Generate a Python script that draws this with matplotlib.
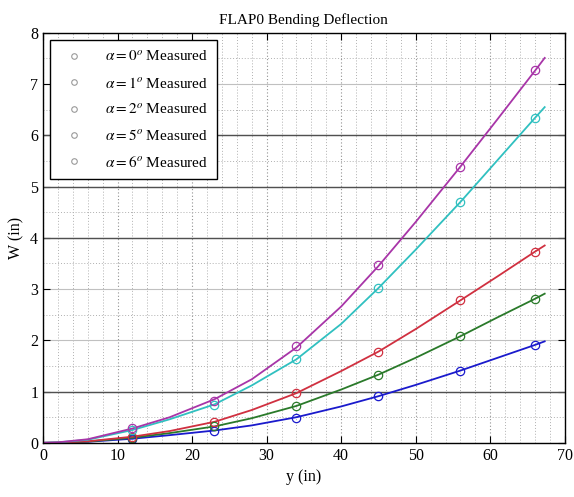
import numpy as np
import matplotlib
matplotlib.use("Agg")
import matplotlib.pyplot as plt
from matplotlib.ticker import MultipleLocator
from matplotlib.lines import Line2D

plt.rcParams["font.family"] = ["Liberation Serif", "DejaVu Serif"]
plt.rcParams["mathtext.fontset"] = "stix"

# measured stations along the span (in)
y_meas = [12, 23, 34, 45, 56, 66]
w_meas = {
    0: [0.08, 0.24, 0.49, 0.91, 1.41, 1.91],
    1: [0.10, 0.32, 0.72, 1.33, 2.08, 2.81],
    2: [0.12, 0.40, 0.97, 1.78, 2.78, 3.73],
    5: [0.26, 0.74, 1.63, 3.02, 4.70, 6.34],
    6: [0.29, 0.81, 1.88, 3.47, 5.39, 7.27],
}

# fitted curves
y_fit = [0, 2, 6, 12, 17, 23, 28, 34, 40, 45, 50, 56, 61, 66, 67.3]
w_fit = {
    0: [0, 0.003, 0.02, 0.08, 0.15, 0.24, 0.34, 0.50, 0.71, 0.91, 1.13, 1.41, 1.66, 1.91, 1.98],
    1: [0, 0.003, 0.025, 0.10, 0.19, 0.32, 0.48, 0.72, 1.04, 1.33, 1.66, 2.08, 2.45, 2.81, 2.91],
    2: [0, 0.004, 0.03, 0.12, 0.23, 0.41, 0.64, 0.97, 1.40, 1.78, 2.22, 2.78, 3.25, 3.73, 3.85],
    5: [0, 0.008, 0.06, 0.25, 0.46, 0.75, 1.12, 1.63, 2.32, 3.02, 3.77, 4.70, 5.52, 6.34, 6.55],
    6: [0, 0.01, 0.07, 0.28, 0.50, 0.85, 1.24, 1.86, 2.66, 3.45, 4.31, 5.39, 6.32, 7.26, 7.51],
}
alphas = [0, 1, 2, 5, 6]
colors = ["#1a1acc", "#2a7a2a", "#d03040", "#30c0c0", "#a835a8"]

dark_rows = [1, 4, 5, 6]

fig = plt.figure(figsize=(5.74, 4.97), dpi=100)
ax = fig.add_axes([0.075, 0.109, 0.909, 0.825])
ax.set_axisbelow(True)

for a, c in zip(alphas, colors):
    ax.plot(y_fit, w_fit[a], color=c, lw=1.3, zorder=3)
    ax.plot(y_meas, w_meas[a], ls="none", marker="o", mfc="none", mec=c,
            ms=6, mew=0.9, zorder=4)

ax.set_xlim(0, 70)
ax.set_ylim(0, 8)
ax.xaxis.set_major_locator(MultipleLocator(10))
ax.yaxis.set_major_locator(MultipleLocator(1))
ax.xaxis.set_minor_locator(MultipleLocator(2))
ax.yaxis.set_minor_locator(MultipleLocator(0.5))
ax.tick_params(which="both", direction="in", top=True, right=True, labelsize=11.5)
ax.tick_params(which="minor", length=0)
ax.tick_params(which="major", length=5)

ax.grid(which="minor", color="#b0b0b0", ls=(0, (1, 2)), lw=0.7)
ax.grid(axis="x", which="major", color="#909090", ls=(0, (1, 2)), lw=0.8)
ax.grid(axis="y", which="major", color="#c0c0c0", ls="-", lw=0.8)
for r in dark_rows:
    ax.axhline(r, color="#505050", lw=1.0, zorder=2)

for s in ax.spines.values():
    s.set_linewidth(1.0)
    s.set_zorder(5)

ax.set_title("FLAP0 Bending Deflection", fontsize=11)
ax.set_xlabel("y (in)", fontsize=11.5)
ax.set_ylabel("W (in)", fontsize=11.5)

handles = [Line2D([], [], ls="none", marker="o", mfc="none", mec="#999999", ms=4, mew=0.8)
           for _ in alphas]
labels = [r"$\alpha = %d^{o}$ Measured" % a for a in alphas]
leg = ax.legend(handles, labels, loc="upper left", fontsize=11, frameon=True,
                fancybox=False, edgecolor="black", framealpha=1,
                borderpad=0.6, labelspacing=0.75, handletextpad=1.0,
                bbox_to_anchor=(-0.002, 1.0))
leg.get_frame().set_linewidth(1.0)
leg.set_zorder(6)

fig.savefig("out.png", dpi=100)
